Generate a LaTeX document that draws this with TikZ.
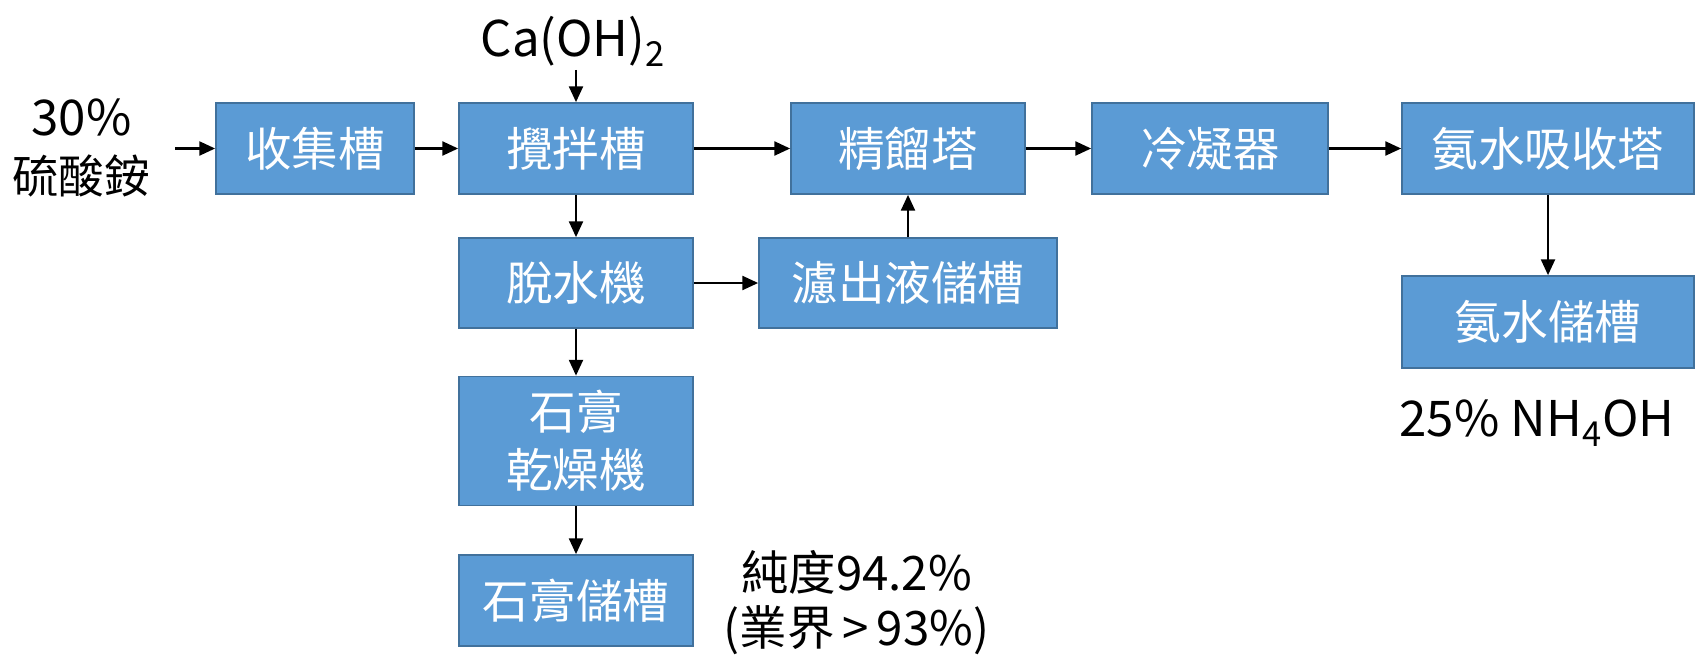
\documentclass[tikz,border=0pt]{standalone}
\usepackage{fontspec}
\setmainfont{Noto Sans CJK TC}
\usetikzlibrary{arrows.meta}
\definecolor{boxfill}{RGB}{91,155,213}
\definecolor{boxline}{RGB}{65,113,156}

\begin{document}
\begin{tikzpicture}[
      unit/.style={draw=boxline, line width=1pt, fill=boxfill, text=white, minimum width=4.68cm, minimum height=1.82cm, align=center, inner sep=0pt, font=\fontsize{26.5}{33}\selectfont},
      note/.style={align=center, inner sep=2pt, font=\fontsize{28}{33}\selectfont},
      arrow/.style={-{Triangle[length=9pt, width=8pt]}, line width=1.2pt}
    ]
    \useasboundingbox (0,0) rectangle (33.92,13.12);

    % Top row
    \node[unit, minimum width=3.96cm] (collect) at (6.30,10.15) {收集槽};
    \node[unit] (mixer)   at (11.52,10.15) {攪拌槽};
    \node[unit] (distill) at (18.16,10.15) {精餾塔};
    \node[unit, minimum width=4.72cm] (condense) at (24.20,10.15) {冷凝器};
    \node[unit, minimum width=5.84cm] (absorb)   at (30.96,10.15) {氨水吸收塔};

    % Gypsum column
    \node[unit, minimum height=1.8cm] (dewater) at (11.52,7.46) {脫水機};
    \node[unit, minimum height=2.58cm] (dryer)  at (11.52,4.30) {石膏\\乾燥機};
    \node[unit] (gypsum) at (11.52,1.11) {石膏儲槽};

    % Filtrate and ammonia tanks
    \node[unit, minimum width=5.96cm, minimum height=1.8cm] (filtrate) at (18.16,7.46) {濾出液儲槽};
    \node[unit, minimum width=5.84cm, minimum height=1.84cm] (ammtank) at (30.96,6.68) {氨水儲槽};

    % Inputs and outputs
    \node[note] (feed) at (1.63,10.16) {30\%\\{\fontsize{26}{33}\selectfont 硫酸銨}};
    \node[note] (lime) at (11.46,12.30) {Ca(OH)\textsubscript{2}};
    \node[note, font=\fontsize{27}{31}\selectfont] (purity) at (17.13,1.07) {純度94.2\%\\(業界\,>\,93\%)};
    \node[note] (product) at (30.74,4.66) {25\% NH\textsubscript{4}OH};
    \coordinate (in) at (3.50,10.15);

    % Main flow
    \draw[arrow] (in) -- (collect.west);
    \draw[arrow] (collect.east) -- (mixer.west);
    \draw[arrow] (mixer.east) -- (distill.west);
    \draw[arrow] (distill.east) -- (condense.west);
    \draw[arrow] (condense.east) -- (absorb.west);
    \draw[arrow] (lime.south -| mixer.north) -- (mixer.north);
    \draw[arrow] (absorb.south) -- (ammtank.north);

    % Solids and filtrate
    \draw[arrow] (mixer.south) -- (dewater.north);
    \draw[arrow] (dewater.south) -- (dryer.north);
    \draw[arrow] (dryer.south) -- (gypsum.north);
    \draw[arrow] (dewater.east) -- (filtrate.west);
    \draw[arrow] (filtrate.north) -- (distill.south);

  \end{tikzpicture}
\end{document}
